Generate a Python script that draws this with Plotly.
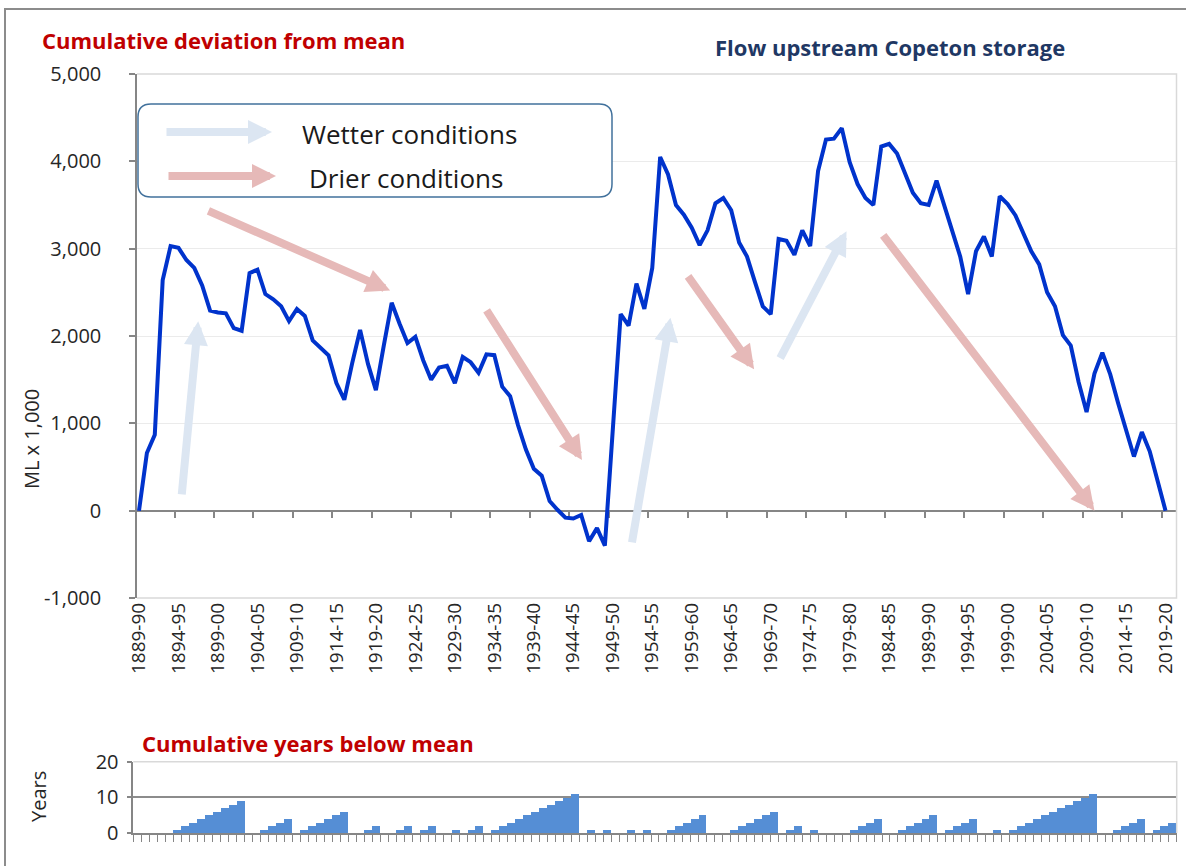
import plotly.graph_objects as go

# ---------------- data ----------------
start_years = list(range(1889, 2020))
seasons = [f"{y}-{(y + 1) % 100:02d}" for y in start_years]

# Cumulative deviation from mean (ML x 1,000)
cum_dev = [
    0, 660, 870, 2640, 3030, 3010, 2870, 2780, 2580, 2290,
    2270, 2260, 2090, 2060, 2720, 2760, 2480, 2420, 2340, 2170,
    2310, 2230, 1950, 1870, 1780, 1460, 1270, 1690, 2070, 1680,
    1380, 1890, 2380, 2140, 1920, 1990, 1720, 1500, 1640, 1660,
    1460, 1760, 1700, 1580, 1790, 1780, 1420, 1310, 980, 700,
    480, 400, 110, 10, -80, -90, -50, -350, -200, -400,
    1000, 2250, 2120, 2600, 2310, 2780, 4050, 3850, 3500, 3390,
    3240, 3040, 3210, 3520, 3580, 3440, 3070, 2910, 2620, 2340,
    2250, 3110, 3090, 2930, 3210, 3030, 3890, 4250, 4260, 4380,
    3990, 3740, 3580, 3500, 4170, 4200, 4090, 3850, 3640, 3520,
    3500, 3780, 3480, 3190, 2910, 2480, 2970, 3140, 2910, 3600,
    3510, 3380, 3180, 2970, 2820, 2500, 2340, 2010, 1890, 1470,
    1130, 1570, 1810, 1560, 1230, 910, 620, 900, 680, 340,
    0,
]

# Cumulative years below mean
years_below = [
    0, 0, 0, 0, 0, 1, 2, 3, 4, 5,
    6, 7, 8, 9, 0, 0, 1, 2, 3, 4,
    0, 1, 2, 3, 4, 5, 6, 0, 0, 1,
    2, 0, 0, 1, 2, 0, 1, 2, 0, 0,
    1, 0, 1, 2, 0, 1, 2, 3, 4, 5,
    6, 7, 8, 9, 10, 11, 0, 1, 0, 1,
    0, 0, 1, 0, 1, 0, 0, 1, 2, 3,
    4, 5, 0, 0, 0, 1, 2, 3, 4, 5,
    6, 0, 1, 2, 0, 1, 0, 0, 0, 0,
    1, 2, 3, 4, 0, 0, 1, 2, 3, 4,
    5, 0, 1, 2, 3, 4, 0, 0, 1, 0,
    1, 2, 3, 4, 5, 6, 7, 8, 9, 10,
    11, 0, 0, 1, 2, 3, 4, 0, 1, 2,
    3,
]

y_tick_values = [-1000, 0, 1000, 2000, 3000, 4000, 5000]
y_tick_labels = ["-1,000", "0", "1,000", "2,000", "3,000", "4,000", "5,000"]
bar_tick_values = [0, 10, 20]
bar_tick_labels = ["0", "10", "20"]

# ---------------- geometry helpers ----------------
W, H = 1186, 866
FONT = "Open Sans"


def px(x):
    return x / W


def py(y):
    return 1 - y / H


idx = list(range(len(seasons)))
label_idx = idx[::5]
label_text = [seasons[i] for i in label_idx]

main_x_dom = [px(137), px(1176.5)]
main_y_dom = [py(598), py(74)]
main_x_range = [-0.253, 131.39]
zero_pos = main_y_dom[0] + (main_y_dom[1] - main_y_dom[0]) * (0 - (-1000)) / 6000

bar_x_dom = [px(133.3), px(1176.7)]
bar_y_dom = [py(833), py(761.7)]

AX = "#868686"
GRID = "#ebebeb"
BORDER = "#d9d9d9"
PINK = "#e6b9b8"
LBLUE = "#dce6f2"
RED = "#c00000"
NAVY = "#1f3864"

fig = go.Figure()

fig.add_trace(go.Scatter(x=[None], y=[None], xaxis="x", yaxis="y",
                         showlegend=False, hoverinfo="skip"))
fig.add_trace(go.Scatter(x=idx, y=cum_dev, mode="lines", xaxis="x2", yaxis="y",
                         line=dict(color="#0033cc", width=4), showlegend=False))
fig.add_trace(go.Bar(x=idx, y=years_below, xaxis="x3", yaxis="y3",
                     marker=dict(color="#558ed5", line=dict(width=0)),
                     showlegend=False))

tickfont = dict(family=FONT, size=20, color="#262626")

fig.update_layout(
    width=W, height=H,
    margin=dict(l=0, r=0, t=0, b=0, pad=0, autoexpand=False),
    paper_bgcolor="white", plot_bgcolor="white",
    bargap=0,
    xaxis=dict(domain=main_x_dom, range=main_x_range, anchor="y", automargin=False,
               tickmode="array", tickvals=label_idx, ticktext=label_text,
               tickangle=-90, ticks="", showline=False, showgrid=False,
               zeroline=False, tickfont=dict(family=FONT, size=19, color="#262626")),
    xaxis2=dict(overlaying="x", anchor="free", position=zero_pos, automargin=False,
                range=main_x_range, tickmode="array",
                tickvals=[i + 0.5 for i in range(4, 130, 5)],
                ticks="outside", ticklen=7, tickwidth=1.5, tickcolor=AX,
                showline=True, linecolor=AX, linewidth=1.5,
                showticklabels=False, showgrid=False, zeroline=False,
                layer="below traces"),
    yaxis=dict(domain=main_y_dom, range=[-1000, 5000], anchor="x", automargin=False,
               tickmode="array", tickvals=y_tick_values, ticktext=y_tick_labels,
               showline=True, linecolor=AX, linewidth=1.5,
               ticks="outside", ticklen=6, tickwidth=1.5, tickcolor=AX,
               showgrid=True, gridcolor=GRID, gridwidth=1, zeroline=False,
               ticklabelstandoff=24, tickfont=tickfont),
    xaxis3=dict(domain=bar_x_dom, range=[-0.5, len(idx) - 0.5], anchor="y3",
                automargin=False,
                tickmode="array", tickvals=[i - 0.5 for i in range(len(idx) + 1)],
                ticks="outside", ticklen=7, tickwidth=1.2, tickcolor=AX,
                showline=True, linecolor=AX, linewidth=1.5,
                showticklabels=False, showgrid=False, zeroline=False),
    yaxis3=dict(domain=bar_y_dom, range=[0, 20], anchor="x3", automargin=False,
                tickmode="array", tickvals=bar_tick_values, ticktext=bar_tick_labels,
                showline=True, linecolor=AX, linewidth=1.5,
                ticks="outside", ticklen=5, tickwidth=1.5, tickcolor=AX,
                showgrid=True, gridcolor="#8c8c8c", gridwidth=1.5, zeroline=False,
                ticklabelstandoff=4, tickfont=tickfont),
)

shapes = []
shapes.append(dict(type="rect", xref="paper", yref="paper",
                   x0=px(5), x1=px(1300), y0=py(1000), y1=py(9),
                   line=dict(color="#8c8c8c", width=2), layer="below"))
x0, x1 = main_x_dom
b0, b1 = main_y_dom
shapes.append(dict(type="path", xref="paper", yref="paper",
                   path=f"M{x0},{b1} L{x1},{b1} L{x1},{b0} L{x0},{b0}",
                   line=dict(color=BORDER, width=1.5)))
x0, x1 = bar_x_dom
b0, b1 = bar_y_dom
shapes.append(dict(type="path", xref="paper", yref="paper",
                   path=f"M{x0},{b1} L{x1},{b1} L{x1},{b0}",
                   line=dict(color=BORDER, width=1.5)))

L, T, R, B, r = 138, 104, 612, 197, 13
rx, ry = r / W, r / H
pl, pr, pt, pb = px(L), px(R), py(T), py(B)
legend_path = (f"M{pl + rx},{pt} L{pr - rx},{pt} Q{pr},{pt} {pr},{pt - ry} "
               f"L{pr},{pb + ry} Q{pr},{pb} {pr - rx},{pb} "
               f"L{pl + rx},{pb} Q{pl},{pb} {pl},{pb + ry} "
               f"L{pl},{pt - ry} Q{pl},{pt} {pl + rx},{pt} Z")
shapes.append(dict(type="path", xref="paper", yref="paper", path=legend_path,
                   line=dict(color="#41719c", width=1.5), fillcolor="white",
                   layer="above"))
fig.update_layout(shapes=shapes)

annotations = []

trend_arrows = [
    (8.6, 3440, 31.8, 2520, PINK),
    (5.4, 170, 7.5, 2170, LBLUE),
    (43.9, 2310, 56.1, 580, PINK),
    (62.4, -380, 67.3, 2210, LBLUE),
    (69.4, 2700, 77.9, 1620, PINK),
    (81.1, 1730, 89.6, 3200, LBLUE),
    (94.1, 3170, 121.0, 0, PINK),
]
for tx, ty, hx, hy, col in trend_arrows:
    annotations.append(dict(xref="x2", yref="y", axref="x2", ayref="y",
                            x=hx, y=hy, ax=tx, ay=ty, text="",
                            showarrow=True, arrowhead=2, arrowsize=0.6,
                            arrowwidth=8, arrowcolor=col))

for (tx, tip, yy, col) in [(165, 272, 132, LBLUE), (167, 276, 176, PINK)]:
    annotations.append(dict(xref="paper", yref="paper", x=px(tip), y=py(yy),
                            ax=tx - tip, ay=0, text="", showarrow=True,
                            arrowhead=2, arrowsize=0.6, arrowwidth=8,
                            arrowcolor=col))

annotations += [
    dict(xref="paper", yref="paper", x=px(300), y=py(134), text="Wetter conditions",
         xanchor="left", yanchor="middle", showarrow=False,
         font=dict(family=FONT, size=26, color="#1a1a1a")),
    dict(xref="paper", yref="paper", x=px(307), y=py(178), text="Drier conditions",
         xanchor="left", yanchor="middle", showarrow=False,
         font=dict(family=FONT, size=26, color="#1a1a1a")),
    dict(xref="paper", yref="paper", x=px(40), y=py(40),
         text="<b>Cumulative deviation from mean</b>",
         xanchor="left", yanchor="middle", showarrow=False,
         font=dict(family=FONT, size=22, color=RED)),
    dict(xref="paper", yref="paper", x=px(890), y=py(47),
         text="<b>Flow upstream Copeton storage</b>",
         xanchor="center", yanchor="middle", showarrow=False,
         font=dict(family=FONT, size=22, color=NAVY)),
    dict(xref="paper", yref="paper", x=px(140), y=py(743),
         text="<b>Cumulative years below mean</b>",
         xanchor="left", yanchor="middle", showarrow=False,
         font=dict(family=FONT, size=22, color=RED)),
    dict(xref="paper", yref="paper", x=px(31), y=py(439), text="ML x 1,000",
         textangle=-90, xanchor="center", yanchor="middle", showarrow=False,
         font=dict(family=FONT, size=20, color="#262626")),
    dict(xref="paper", yref="paper", x=px(38), y=py(797), text="Years",
         textangle=-90, xanchor="center", yanchor="middle", showarrow=False,
         font=dict(family=FONT, size=20, color="#262626")),
]
fig.update_layout(annotations=annotations)

fig.write_html("out.html", config={"displayModeBar": False},
               post_script="document.body.style.margin='0';")
